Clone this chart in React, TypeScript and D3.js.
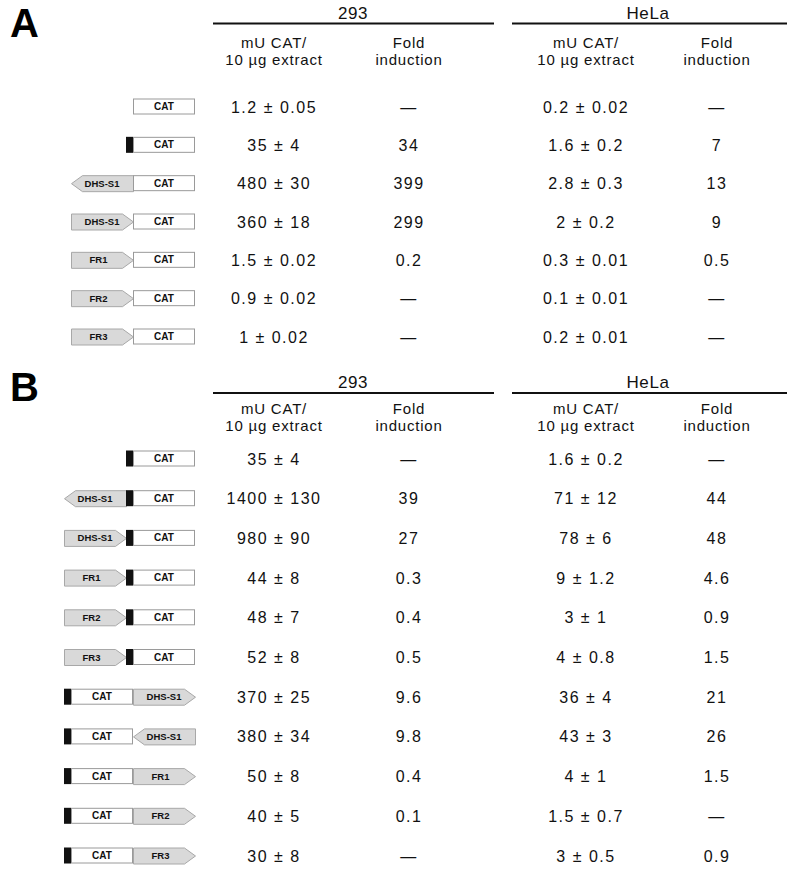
import React from 'react';
import * as d3 from 'd3';

// ---------- data ----------
const panelLabels = ['A', 'B'];
const cellLines = ['293', 'HeLa'];
const activityHeader = ['mU CAT/', '10 µg extract'];
const foldHeader = ['Fold', 'induction'];

// construct tokens: 'BOX' = black promoter block, 'CAT' = reporter,
// 'X>' = element pointing right, '<X' = element pointing left
const constructsA = [
  ['CAT'],
  ['BOX', 'CAT'],
  ['<DHS-S1', 'CAT'],
  ['DHS-S1>', 'CAT'],
  ['FR1>', 'CAT'],
  ['FR2>', 'CAT'],
  ['FR3>', 'CAT'],
];
const mean293A = [1.2, 35, 480, 360, 1.5, 0.9, 1];
const err293A = [0.05, 4, 30, 18, 0.02, 0.02, 0.02];
const fold293A = [null, 34, 399, 299, 0.2, null, null];
const meanHeLaA = [0.2, 1.6, 2.8, 2, 0.3, 0.1, 0.2];
const errHeLaA = [0.02, 0.2, 0.3, 0.2, 0.01, 0.01, 0.01];
const foldHeLaA = [null, 7, 13, 9, 0.5, null, null];

const constructsB = [
  ['BOX', 'CAT'],
  ['<DHS-S1', 'BOX', 'CAT'],
  ['DHS-S1>', 'BOX', 'CAT'],
  ['FR1>', 'BOX', 'CAT'],
  ['FR2>', 'BOX', 'CAT'],
  ['FR3>', 'BOX', 'CAT'],
  ['BOX', 'CAT', 'DHS-S1>'],
  ['BOX', 'CAT', '<DHS-S1'],
  ['BOX', 'CAT', 'FR1>'],
  ['BOX', 'CAT', 'FR2>'],
  ['BOX', 'CAT', 'FR3>'],
];
const mean293B = [35, 1400, 980, 44, 48, 52, 370, 380, 50, 40, 30];
const err293B = [4, 130, 90, 8, 7, 8, 25, 34, 8, 5, 8];
const fold293B = [null, 39, 27, 0.3, 0.4, 0.5, 9.6, 9.8, 0.4, 0.1, null];
const meanHeLaB = [1.6, 71, 78, 9, 3, 4, 36, 43, 4, 1.5, 3];
const errHeLaB = [0.2, 12, 6, 1.2, 1, 0.8, 4, 3, 1, 0.7, 0.5];
const foldHeLaB = [null, 44, 48, 4.6, 0.9, 1.5, 21, 26, 1.5, null, 0.9];

// ---------- layout ----------
const W = 793;
const H = 872;
const FONT = "'Liberation Sans', Arial, Helvetica, sans-serif";

const panels = [
  {
    label: panelLabels[0], labelY: 37, titleY: 19, lineY: 23.5, h1Y: 47.5, h2Y: 64.5,
    rowRange: [106.5, 336.5], constructs: constructsA, right: 195,
    cols: [mean293A, err293A, fold293A, meanHeLaA, errHeLaA, foldHeLaA],
  },
  {
    label: panelLabels[1], labelY: 401, titleY: 388, lineY: 393, h1Y: 413.5, h2Y: 430.5,
    rowRange: [458.5, 855.5], constructs: constructsB, right: 195,
    cols: [mean293B, err293B, fold293B, meanHeLaB, errHeLaB, foldHeLaB],
  },
];

// column centres
const colX = d3.scaleOrdinal<string, number>()
  .domain(['act293', 'fold293', 'actHeLa', 'foldHeLa'])
  .range([274, 409, 586, 717]);
const groupLines = [
  { name: cellLines[0], x0: 213, x1: 494, cx: 353 },
  { name: cellLines[1], x0: 512, x1: 787, cx: 648 },
];

const partW = { BOX: 7, CAT: 62, EL: 62 };
const TIP = 11;
const BH = 16;

const fmt = (v: number) => String(v);

function Construct({ tokens, y, right }: { tokens: string[]; y: number; right: number }) {
  const widths = tokens.map((t) => (t === 'BOX' ? partW.BOX : t === 'CAT' ? partW.CAT : partW.EL));
  const total = d3.sum(widths);
  let x = right - total;
  const y0 = y - BH / 2;
  const y1 = y + BH / 2;
  const els: React.ReactNode[] = [];
  tokens.forEach((t, i) => {
    const w = widths[i];
    const x0 = x;
    const x1 = x + w;
    if (t === 'BOX') {
      els.push(<rect key={i} x={x0} y={y0} width={w} height={BH} fill="#111" />);
    } else if (t === 'CAT') {
      els.push(
        <g key={i}>
          <rect x={x0 + 0.5} y={y0 + 0.5} width={w - 1} height={BH - 1} fill="#fff" stroke="#9a9a9a" strokeWidth={1} />
          <text x={(x0 + x1) / 2} y={y + 3.5} textAnchor="middle" fontSize={10} fontWeight="bold" fill="#111" fontFamily={FONT}>CAT</text>
        </g>
      );
    } else {
      const right = t.endsWith('>');
      const name = t.replace('>', '').replace('<', '');
      const pts = right
        ? [[x0, y0], [x1 - TIP, y0], [x1, y], [x1 - TIP, y1], [x0, y1]]
        : [[x1, y0], [x0 + TIP, y0], [x0, y], [x0 + TIP, y1], [x1, y1]];
      const line = d3.line<number[]>().x((d) => d[0] + 0.5).y((d) => d[1] + 0.5);
      const isFR = name.startsWith('FR');
      const cx = isFR ? (right ? (x0 + x1 - TIP) / 2 + 2 : (x0 + TIP + x1) / 2 - 2) : (x0 + x1) / 2;
      els.push(
        <g key={i}>
          <path d={line(pts as any) + 'Z'} fill="#d9d9d9" stroke="#a8a8a8" strokeWidth={1} />
          <text x={cx} y={y + 3.5} textAnchor="middle" fontSize={9.5} fontWeight="bold" fill="#111" fontFamily={FONT}>{name}</text>
        </g>
      );
    }
    x = x1;
  });
  return <g>{els}</g>;
}

export default function App() {
  return (
    <svg width={W} height={H} style={{ position: 'absolute', left: 0, top: 0, background: '#fff' }} fontFamily={FONT}>
      <rect width={W} height={H} fill="#fff" />
      {panels.map((p) => {
        const n = p.constructs.length;
        const rowY = d3.scaleLinear().domain([0, n - 1]).range(p.rowRange);
        const [m293, e293, f293, mHe, eHe, fHe] = p.cols;
        return (
          <g key={p.label}>
            <text x={10} y={p.labelY} fontSize={40} fontWeight="bold" fill="#000">{p.label}</text>
            {groupLines.map((g) => (
              <g key={g.name}>
                <text x={g.cx} y={p.titleY} textAnchor="middle" fontSize={17} letterSpacing={0.6} fill="#111">{g.name}</text>
                <line x1={g.x0} x2={g.x1} y1={p.lineY} y2={p.lineY} stroke="#111" strokeWidth={1.8} />
              </g>
            ))}
            {[['act293', activityHeader], ['fold293', foldHeader], ['actHeLa', activityHeader], ['foldHeLa', foldHeader]].map(([k, hdr]) => (
              <g key={k as string}>
                <text x={colX(k as string)} y={p.h1Y} textAnchor="middle" fontSize={15} letterSpacing={0.8} fill="#111">{(hdr as string[])[0]}</text>
                <text x={colX(k as string)} y={p.h2Y} textAnchor="middle" fontSize={15} letterSpacing={0.8} fill="#111">{(hdr as string[])[1]}</text>
              </g>
            ))}
            {p.constructs.map((c, i) => (
              <g key={i}>
                <Construct tokens={c} y={rowY(i)} right={p.right} />
                <text x={colX('act293')} y={rowY(i) + 6} textAnchor="middle" fontSize={16} letterSpacing={1.5} fill="#111">
                  {`${fmt(m293[i] as number)} ± ${fmt(e293[i] as number)}`}
                </text>
                <text x={colX('fold293')} y={rowY(i) + 6} textAnchor="middle" fontSize={16} letterSpacing={1.5} fill="#111">
                  {f293[i] == null ? '—' : fmt(f293[i] as number)}
                </text>
                <text x={colX('actHeLa')} y={rowY(i) + 6} textAnchor="middle" fontSize={16} letterSpacing={1.5} fill="#111">
                  {`${fmt(mHe[i] as number)} ± ${fmt(eHe[i] as number)}`}
                </text>
                <text x={colX('foldHeLa')} y={rowY(i) + 6} textAnchor="middle" fontSize={16} letterSpacing={1.5} fill="#111">
                  {fHe[i] == null ? '—' : fmt(fHe[i] as number)}
                </text>
              </g>
            ))}
          </g>
        );
      })}
    </svg>
  );
}
